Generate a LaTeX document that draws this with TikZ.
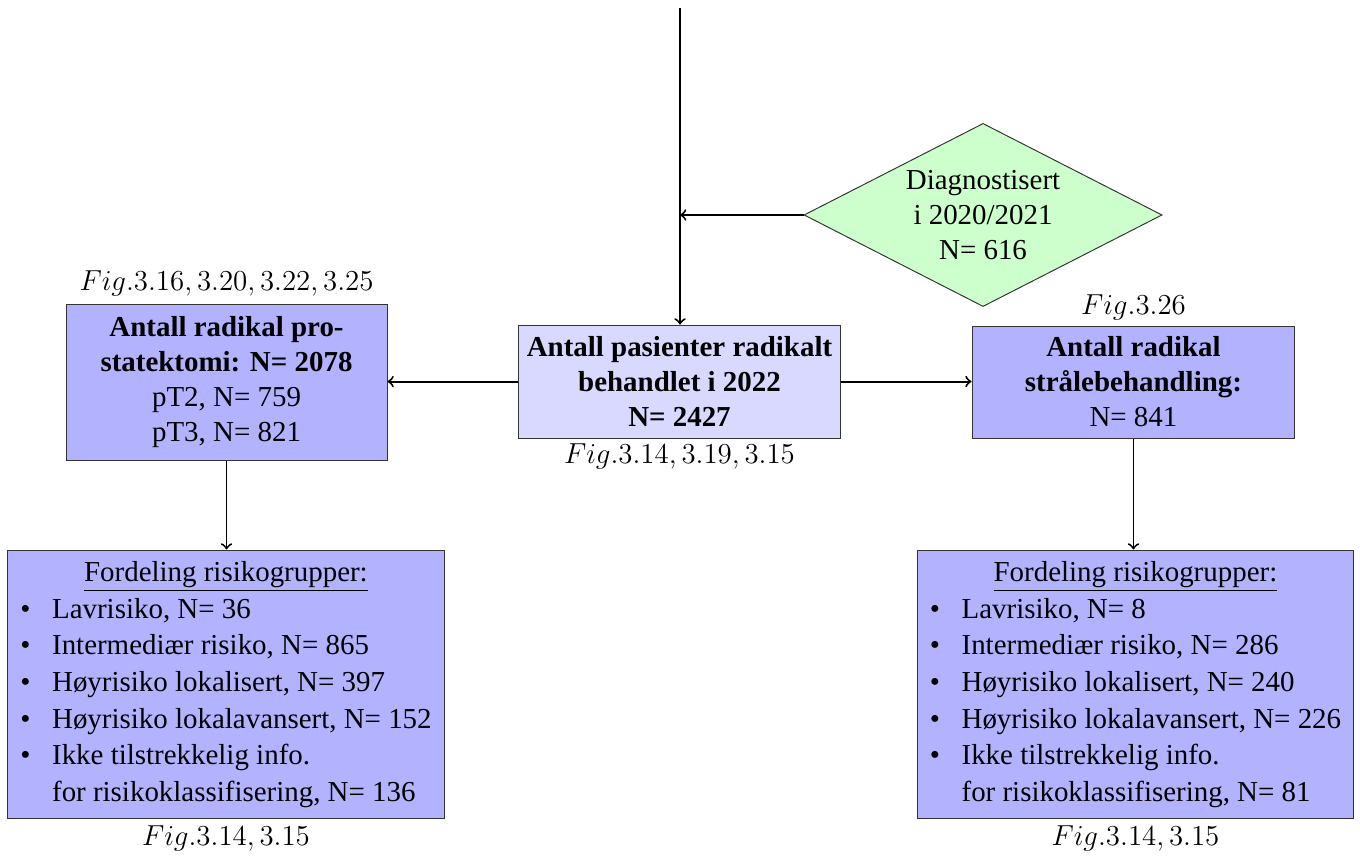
\documentclass[tikz,border=0pt]{standalone}
\usepackage{fontspec}
\setmainfont{Liberation Serif}
\usetikzlibrary{positioning,shapes.geometric}

\tikzset{
	every node/.style={font=\fontsize{12}{14.5}\selectfont},
	mainbox/.style={draw=black!80, fill=blue!15, align=center, inner sep=2pt},
	sumbox/.style={draw=black!80, fill=blue!30, align=center, inner sep=2pt},
	riskbox/.style={draw=black!80, fill=blue!30, inner sep=2pt, minimum height=3.907cm, font=\fontsize{12}{15.2}\selectfont},
	diagbox/.style={diamond, draw=black!80, fill=green!20, align=center, aspect=1.96, inner sep=1pt, minimum width=5.22cm, minimum height=2.67cm},
	figlbl/.style={inner sep=2pt},
	flow/.style={->, thick}
}

\begin{document}
\begin{tikzpicture}
	%%%%% START %%%%%
	\useasboundingbox (0,0) rectangle (19.825,12.493);
	
	\coordinate (topin) at (9.913,12.376);
	
	\node[mainbox, minimum width=4.68cm, minimum height=1.647cm] (pasient) at (9.905,6.931)
		{\textbf{Antall pasienter radikalt}\\\textbf{behandlet i 2022}\\\textbf{N= 2427}};
	\node[figlbl, below=0pt of pasient] (figpas) {$Fig.3.14, 3.19, 3.15$};
	
	\node[diagbox] (diag) at (14.33,9.359) {Diagnostisert\\i 2020/2021\\N= 616};
	
	\node[sumbox, minimum width=4.68cm, minimum height=2.274cm] (prost) at (3.302,6.924)
		{\textbf{Antall radikal pro-}\\\textbf{statektomi: N= 2078}\\pT2, N= 759\\pT3, N= 821};
	\node[figlbl, above=1pt of prost] (figprost) {$Fig.3.16, 3.20, 3.22, 3.25$};
	
	\node[sumbox, minimum width=4.708cm, minimum height=1.633cm] (straale) at (16.523,6.924)
		{\textbf{Antall radikal}\\\textbf{strålebehandling:}\\N= 841};
	\node[figlbl, above=0pt of straale] (figstr) {$Fig.3.26$};
	
	% risikogrupper
	\node[riskbox, minimum width=6.356cm] (riskprost) at (3.294,2.522) {%
		\begin{tabular}{@{}l@{\ \ \ }l@{}}
			\multicolumn{2}{c}{\underline{Fordeling risikogrupper:}}\\
			\textbullet & Lavrisiko, N= 36\\
			\textbullet & Intermediær risiko, N= 865\\
			\textbullet & Høyrisiko lokalisert, N= 397\\
			\textbullet & Høyrisiko lokalavansert, N= 152\\
			\textbullet & Ikke tilstrekkelig info.\\
			& for risikoklassifisering, N= 136
		\end{tabular}};
	\node[figlbl, below=1pt of riskprost] (figrp) {$Fig.3.14, 3.15$};
	
	\node[riskbox, minimum width=6.37cm] (riskstr) at (16.552,2.522) {%
		\begin{tabular}{@{}l@{\ \ \ }l@{}}
			\multicolumn{2}{c}{\underline{Fordeling risikogrupper:}}\\
			\textbullet & Lavrisiko, N= 8\\
			\textbullet & Intermediær risiko, N= 286\\
			\textbullet & Høyrisiko lokalisert, N= 240\\
			\textbullet & Høyrisiko lokalavansert, N= 226\\
			\textbullet & Ikke tilstrekkelig info.\\
			& for risikoklassifisering, N= 81
		\end{tabular}};
	\node[figlbl, below=1pt of riskstr] (figrs) {$Fig.3.14, 3.15$};
	
	% piler
	\draw[flow] (topin) -- (topin |- pasient.north);
	\draw[flow] (diag.west) -- (diag.west -| topin);
	\draw[flow] (pasient.west) -- (pasient.west -| prost.east);
	\draw[flow] (pasient.east) -- (pasient.east -| straale.west);
	\draw[flow] (prost.south) -- (prost.south |- riskprost.north);
	\draw[flow] (straale.south) -- (straale.south |- riskstr.north);
	%%%%% END %%%%%
\end{tikzpicture}
\end{document}
